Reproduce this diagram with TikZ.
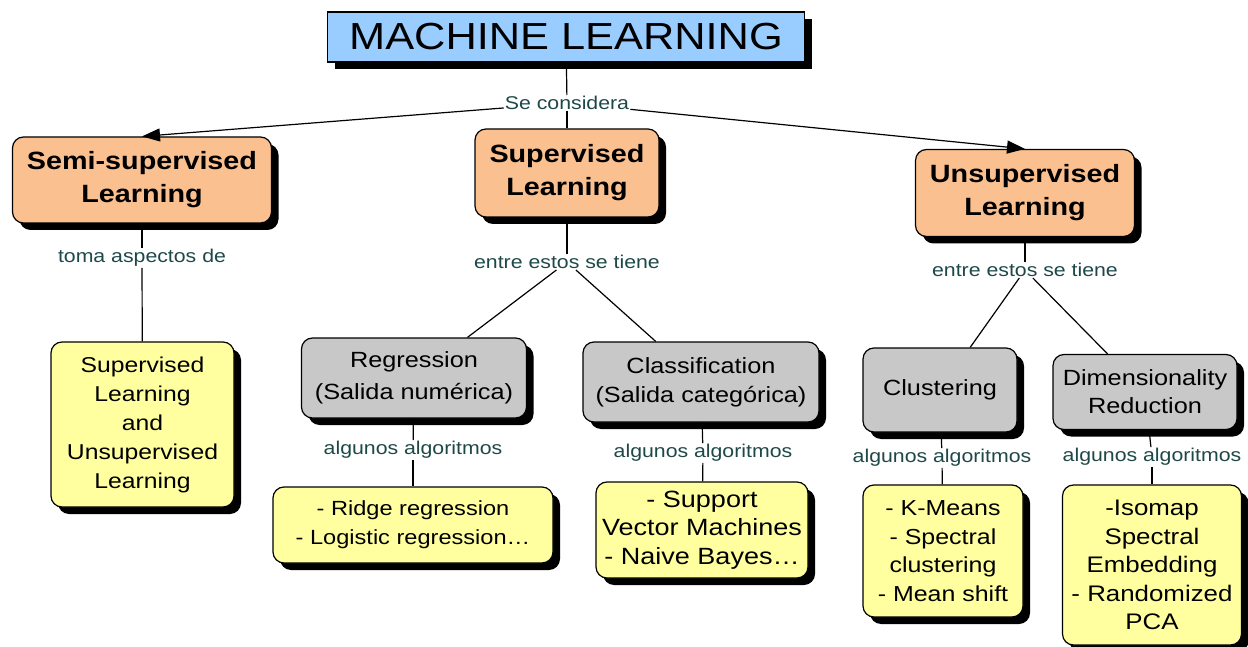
\documentclass[tikz,border=0pt]{standalone}
\usepackage{fontspec}
\setmainfont{Liberation Sans}[FakeStretch=1.15]
\usetikzlibrary{shadows,arrows.meta}
\definecolor{titleblue}{RGB}{153,204,255}
\definecolor{peach}{RGB}{250,192,143}
\definecolor{boxgray}{RGB}{200,200,200}
\definecolor{paleyellow}{RGB}{255,255,160}
\definecolor{labelc}{RGB}{30,72,72}
\tikzset{
  cbox/.style={draw=black, line width=1.2pt, rounded corners=11pt, align=center, inner sep=0pt,
    drop shadow={shadow xshift=7pt, shadow yshift=-7pt, fill=black, opacity=1}},
  titlebox/.style={cbox, rounded corners=0pt, fill=titleblue, font={\fontsize{37.7}{40}\selectfont}},
  mainbox/.style={cbox, fill=peach, font={\fontsize{25}{33}\selectfont\bfseries}},
  graybox/.style={cbox, fill=boxgray, font={\fontsize{22}{#1}\selectfont}},
  graybox/.default=32,
  ybox/.style 2 args={cbox, fill=paleyellow, font={\fontsize{#1}{#2}\selectfont}},
  lbl/.style={inner sep=1pt, text=labelc, font={\fontsize{18.5}{20}\selectfont}},
  link/.style={draw=black, line width=1.2pt},
  arrowlink/.style={link, -{Triangle[length=18pt,width=13pt]}}
}
\begin{document}
\begin{tikzpicture}[x=1pt,y=-1pt]
\useasboundingbox (0,0) rectangle (1248,647);
% nodes
\node[titlebox, minimum width=477pt, minimum height=50pt] (ml) at (566,37) {MACHINE LEARNING};
\node[lbl] (l1) at (567,103) {Se considera};
\node[mainbox, minimum width=259pt, minimum height=86pt] (semi) at (142,180) {Semi-supervised\\Learning};
\node[mainbox, minimum width=184pt, minimum height=88pt] (sup) at (567,173) {Supervised\\Learning};
\node[mainbox, minimum width=219pt, minimum height=87pt] (unsup) at (1025,193) {Unsupervised\\Learning};
\node[lbl] (l2) at (142,258) {toma aspectos de};
\node[lbl] (l3) at (567,262) {entre estos se tiene};
\node[lbl] (l4) at (1025,270) {entre estos se tiene};
\node[ybox={21.5}{29}, minimum width=183pt, minimum height=165pt] (y1) at (142.5,424.5) {Supervised\\Learning\\and\\Unsupervised\\Learning};
\node[graybox=32, minimum width=225pt, minimum height=80pt] (reg) at (414,378) {Regression\\(Salida numérica)};
\node[graybox=29, minimum width=236pt, minimum height=80pt] (cls) at (701,382) {Classification\\(Salida categórica)};
\node[graybox, minimum width=154pt, minimum height=84pt] (clu) at (940,390) {Clustering};
\node[graybox=28, minimum width=184pt, minimum height=75pt] (dim) at (1145,392) {Dimensionality\\Reduction};
\node[lbl] (l5) at (413,450) {algunos algoritmos};
\node[lbl] (l6) at (703,453) {algunos algoritmos};
\node[lbl] (l7) at (942,458) {algunos algoritmos};
\node[lbl] (l8) at (1152,457) {algunos algoritmos};
\node[ybox={20.5}{29}, minimum width=280pt, minimum height=76pt] (yr) at (413,525) {- Ridge regression\\- Logistic regression…};
\node[ybox={23.5}{28.5}, minimum width=212pt, minimum height=96pt] (yc) at (702,530) {- Support\\Vector Machines\\- Naive Bayes…};
\node[ybox={21.7}{28.5}, minimum width=160pt, minimum height=132pt] (ycl) at (943,551) {- K-Means\\- Spectral\\clustering\\- Mean shift};
\node[ybox={22.5}{28.5}, minimum width=179pt, minimum height=160pt] (yd) at (1152,565) {-Isomap\\Spectral\\Embedding\\- Randomized\\PCA};
% connectors
\draw[link] (ml) -- (l1);
\draw[link] (l1) -- (sup);
\draw[arrowlink] (l1) -- (semi.north);
\draw[arrowlink] (l1) -- (unsup.north);
\draw[link] (semi) -- (l2);
\draw[link] (l2) -- (y1);
\draw[link] (sup) -- (l3);
\draw[link] (l3) -- (reg);
\draw[link] (l3) -- (cls);
\draw[link] (unsup) -- (l4);
\draw[link] (l4) -- (clu);
\draw[link] (l4) -- (dim);
\draw[link] (reg) -- (l5);
\draw[link] (l5) -- (yr);
\draw[link] (cls) -- (l6);
\draw[link] (l6) -- (yc);
\draw[link] (clu) -- (l7);
\draw[link] (l7) -- (ycl);
\draw[link] (dim) -- (l8);
\draw[link] (l8) -- (yd);
\end{tikzpicture}
\end{document}
